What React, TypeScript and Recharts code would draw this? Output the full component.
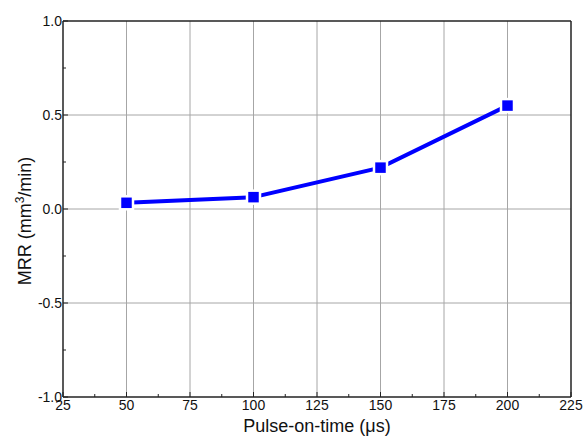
import { Label, Line, LineChart, ReferenceLine, XAxis, YAxis } from 'recharts';

// pulse-on-time settings (µs) and measured material removal rate
const pulseOnTime = [50, 100, 150, 200];
const mrr = [0.033, 0.063, 0.22, 0.55];

const xMajor = [25, 50, 75, 100, 125, 150, 175, 200, 225];
const xMinor = [37.5, 62.5, 87.5, 112.5, 137.5, 162.5, 187.5, 212.5];
const yMajor = [-1, -0.5, 0, 0.5, 1];
const yMinor = [-0.75, -0.25, 0.25, 0.75];

const data = pulseOnTime.map((t, i) => ({ t, mrr: mrr[i] }));

const FONT = '"Liberation Sans", Arial, sans-serif';
const BLUE = '#0000ff';
const GRID = '#a6a6a6';
const AXIS = '#222';

function XTick({ x, y, payload }: any) {
  const major = xMajor.includes(payload.value);
  return (
    <g>
      <line x1={x} y1={y} x2={x} y2={y - (major ? 5 : 3)} stroke={AXIS} strokeWidth={1} />
      {major && (
        <text x={x} y={y + 13} textAnchor="middle" fontSize={14} fontFamily={FONT} fill="#111">
          {payload.value}
        </text>
      )}
    </g>
  );
}

function YTick({ x, y, payload }: any) {
  const major = yMajor.includes(payload.value);
  return (
    <g>
      <line x1={x} y1={y} x2={x + (major ? 5 : 3)} y2={y} stroke={AXIS} strokeWidth={1} />
      {major && (
        <text x={x - 1} y={y + 5} textAnchor="end" fontSize={14} fontFamily={FONT} fill="#111">
          {payload.value.toFixed(1)}
        </text>
      )}
    </g>
  );
}

function SquareDot({ cx, cy }: any) {
  if (cx == null || cy == null) return null;
  return (
    <rect
      x={cx - 6.5}
      y={cy - 6.5}
      width={13}
      height={13}
      fill={BLUE}
      stroke="#fff"
      strokeWidth={2.5}
    />
  );
}

function XTitle({ viewBox }: any) {
  return (
    <text
      x={viewBox.x + viewBox.width / 2}
      y={viewBox.y + 35}
      textAnchor="middle"
      fontSize={18}
      fontFamily={FONT}
      fill="#111"
    >
      Pulse-on-time (μs)
    </text>
  );
}

function YTitle({ viewBox }: any) {
  const cx = 31;
  const cy = viewBox.y + viewBox.height / 2 + 12;
  return (
    <text
      transform={`translate(${cx},${cy}) rotate(-90)`}
      textAnchor="middle"
      fontSize={18}
      fontFamily={FONT}
      fill="#111"
    >
      MRR (mm
      <tspan fontSize={12} dy={-7}>3</tspan>
      <tspan dy={7}>/min)</tspan>
    </text>
  );
}

export default function App() {
  return (
    <div style={{ position: 'absolute', left: 0, top: 0, background: '#fff' }}>
      <LineChart
        width={584}
        height={440}
        data={data}
        margin={{ top: 21, right: 13, left: 0, bottom: 0 }}
      >
        {xMajor.slice(1, -1).map((v) => (
          <ReferenceLine key={`gx${v}`} x={v} stroke={GRID} strokeWidth={1} />
        ))}
        {yMajor.slice(1, -1).map((v) => (
          <ReferenceLine key={`gy${v}`} y={v} stroke={GRID} strokeWidth={1} />
        ))}
        <ReferenceLine x={225} stroke={AXIS} strokeWidth={1.5} />
        <ReferenceLine y={1} stroke={AXIS} strokeWidth={1.5} />
        <XAxis
          dataKey="t"
          type="number"
          domain={[25, 225]}
          ticks={[...xMajor, ...xMinor].sort((a, b) => a - b)}
          interval={0}
          height={43}
          tickSize={0}
          tickMargin={0}
          tickLine={false}
          tick={<XTick />}
          axisLine={{ stroke: AXIS, strokeWidth: 1.5 }}
        >
          <Label content={<XTitle />} />
        </XAxis>
        <YAxis
          type="number"
          domain={[-1, 1]}
          ticks={[...yMajor, ...yMinor].sort((a, b) => a - b)}
          interval={0}
          width={63}
          tickSize={0}
          tickMargin={0}
          tickLine={false}
          tick={<YTick />}
          axisLine={{ stroke: AXIS, strokeWidth: 1.5 }}
        >
          <Label content={<YTitle />} />
        </YAxis>
        <Line
          type="linear"
          dataKey="mrr"
          stroke={BLUE}
          strokeWidth={4}
          dot={<SquareDot />}
          activeDot={false}
          isAnimationActive={false}
        />
      </LineChart>
    </div>
  );
}
